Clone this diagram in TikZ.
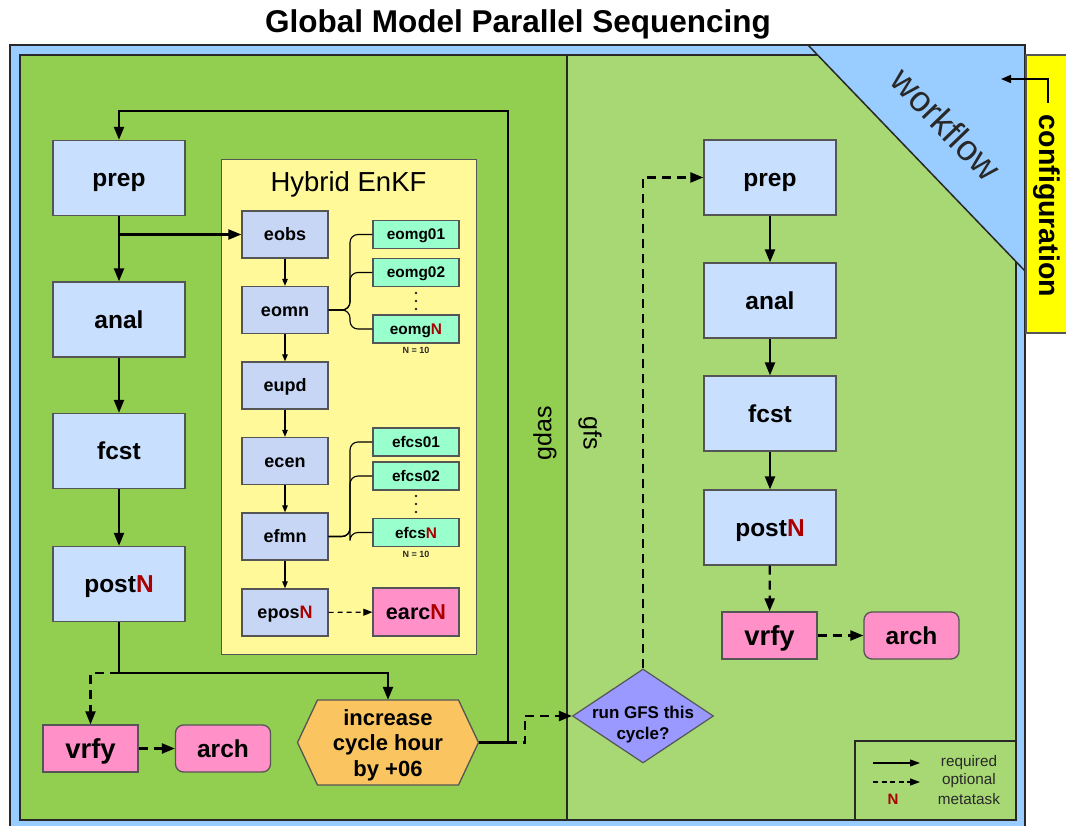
\documentclass[tikz,border=0pt]{standalone}
\usepackage{fontspec}
\setmainfont{Liberation Sans}
\usetikzlibrary{arrows.meta,shapes.geometric}
\definecolor{outerblue}{RGB}{153,204,255}
\definecolor{gdasg}{RGB}{146,206,80}
\definecolor{gfsg}{RGB}{167,216,116}
\definecolor{boxblue}{RGB}{201,223,254}
\definecolor{eblue}{RGB}{198,214,244}
\definecolor{bordgray}{RGB}{85,85,85}
\definecolor{hybyellow}{RGB}{255,249,153}
\definecolor{mint}{RGB}{153,255,204}
\definecolor{pinkc}{RGB}{255,145,200}
\definecolor{orangec}{RGB}{250,196,96}
\definecolor{purpc}{RGB}{153,153,255}
\definecolor{cfgyellow}{RGB}{255,255,0}
\definecolor{nred}{RGB}{170,0,0}
\definecolor{darkline}{RGB}{40,40,40}
\newcommand{\rN}{\textcolor{nred}{N}}
\tikzset{
  panel/.style={draw=darkline, line width=1.4pt},
  mainbox/.style={draw=bordgray, line width=1.3pt, fill=boxblue, minimum width=132pt, minimum height=75pt, inner sep=0pt, text height=17.5pt, text depth=0pt, font=\fontsize{24.5}{28}\selectfont\bfseries},
  ebox/.style={draw=bordgray, line width=1.3pt, fill=eblue, minimum width=86pt, minimum height=47pt, inner sep=0pt, text height=12.9pt, text depth=0pt, font=\fontsize{18}{21}\selectfont\bfseries},
  mbox/.style={draw=bordgray, line width=1.3pt, fill=mint, minimum width=86pt, minimum height=28pt, inner sep=0pt, text height=11pt, text depth=0pt, font=\fontsize{15.4}{18}\selectfont\bfseries},
  pinkbox/.style={draw=bordgray, line width=1.3pt, fill=pinkc, minimum width=95pt, minimum height=47pt, inner sep=0pt, text depth=0pt},
  vrfyfont/.style={font=\fontsize{27.5}{30}\selectfont\bfseries, text height=19.7pt},
  archfont/.style={font=\fontsize{24.5}{28}\selectfont\bfseries, text height=17.5pt},
  req/.style={line width=2.2pt, -{Triangle[length=13pt,width=10pt]}},
  reqline/.style={line width=2.2pt},
  opt/.style={line width=2.2pt, dash pattern=on 9pt off 6pt, -{Triangle[length=13pt,width=10pt]}},
  optline/.style={line width=2.2pt, dash pattern=on 9pt off 6pt},
  ethin/.style={line width=1.1pt, -{Triangle[length=7pt,width=5.5pt]}},
  eopt/.style={line width=1.1pt, dash pattern=on 5pt off 4pt, -{Triangle[length=9pt,width=7pt]}},
  brace/.style={line width=1.1pt, rounded corners=8pt},
  smalltxt/.style={font=\fontsize{9}{10}\selectfont\bfseries, text=darkline},
  legtxt/.style={font=\fontsize{15.3}{17}\selectfont, text=darkline, anchor=base},
}
\begin{document}
\begin{tikzpicture}[x=1pt,y=-1pt]
\useasboundingbox (0,0) rectangle (1066,826);
\fill[white] (0,0) rectangle (1066,826);
% title
\node[font=\fontsize{31.5}{35}\selectfont\bfseries, anchor=base, inner sep=0pt] (title) at (518,33) {Global Model Parallel Sequencing};
% frames
\fill[outerblue] (10,45) rectangle (1025,840);
\draw[panel, fill=gdasg] (20,55) rectangle (567,820);
\draw[panel, fill=gfsg] (567,55) rectangle (1016,820);
\fill[outerblue] (808,45) -- (1025,45) -- (1025,271) -- cycle;
\draw[line width=1.5pt, draw=darkline] (808,45) -- (1025,271);
\draw[line width=1.8pt, draw=darkline] (10,840) -- (10,45) -- (1025,45) -- (1025,840);
\draw[draw=bordgray, line width=1.3pt, fill=cfgyellow] (1026,55) rectangle (1080,333);
% side labels
\node[font=\fontsize{36}{40}\selectfont, text=darkline, rotate=-46] (wf) at (946,124) {workflow};
\node[font=\fontsize{28.5}{32}\selectfont\bfseries, rotate=-90] (cfg) at (1047,206) {configuration};
\coordinate (cfgstart) at (1048,103);
\coordinate (cfgend) at (1001,79);
\draw[line width=1.5pt, -{Triangle[length=10pt,width=8pt]}] (cfgstart) |- (cfgend);
\node[font=\fontsize{25}{28}\selectfont, rotate=90] (gdaslbl) at (545,433) {gdas};
\node[font=\fontsize{25}{28}\selectfont, rotate=-90] (gfslbl) at (590,433) {gfs};
% hybrid enkf frame
\node[draw=bordgray, line width=1.3pt, fill=hybyellow, minimum width=255pt, minimum height=495pt, anchor=north west, inner sep=0pt] (hyb) at (221,159) {};
\node[font=\fontsize{27.5}{30}\selectfont, anchor=base, inner sep=0pt] (hybt) at (348.5,192) {Hybrid EnKF};
% left column
\node[mainbox] (lprep) at (119,178) {prep};
\node[mainbox] (lanal) at (119,319.5) {anal};
\node[mainbox] (lfcst) at (119,451) {fcst};
\node[mainbox] (lpost) at (119,584) {post\rN};
\node[pinkbox, vrfyfont] (lvrfy) at (90.5,748.5) {vrfy};
\node[pinkbox, rounded corners=8pt, archfont] (larch) at (223,748.5) {arch};
% hexagon
\fill[orangec, draw=bordgray, line width=1.3pt] (297.5,742.5) -- (317.5,700) -- (458.5,700) -- (478.5,742.5) -- (458.5,785) -- (317.5,785) -- cycle;
\node[minimum width=181pt, minimum height=85pt, inner sep=0pt] (hex) at (388,742.5) {};
\node[font=\fontsize{22}{25.5}\selectfont\bfseries, align=center] (hextxt) at (388,745) {increase\\cycle hour\\by +06};
% enkf boxes
\node[ebox] (eobs) at (285,234.5) {eobs};
\node[ebox] (eomn) at (285,310) {eomn};
\node[ebox] (eupd) at (285,385.5) {eupd};
\node[ebox] (ecen) at (285,461) {ecen};
\node[ebox] (efmn) at (285,536.5) {efmn};
\node[ebox] (epos) at (285,612.5) {epos\rN};
\node[mbox] (eomg1) at (416,234.5) {eomg01};
\node[mbox] (eomg2) at (416,272.5) {eomg02};
\node[mbox] (eomgN) at (416,329) {eomg\rN};
\node[smalltxt] (n1) at (416,350) {N = 10};
\node[mbox] (efcs1) at (416,442) {efcs01};
\node[mbox] (efcs2) at (416,476) {efcs02};
\node[mbox] (efcsN) at (416,532.5) {efcs\rN};
\node[smalltxt] (n2) at (416,554.5) {N = 10};
\node[draw=bordgray, line width=1.3pt, fill=pinkc, minimum width=86pt, minimum height=48pt, inner sep=0pt, text height=15.5pt, text depth=0pt, font=\fontsize{21.6}{24}\selectfont\bfseries] (earc) at (416,612) {earc\rN};
\foreach \yy in {293,301,309} \fill[darkline] (416,\yy) circle (1.4pt);
\foreach \yy in {496,504,512} \fill[darkline] (416,\yy) circle (1.4pt);
% enkf connectors
\draw[ethin] (eobs) -- (eomn);
\draw[ethin] (eomn) -- (eupd);
\draw[ethin] (eupd) -- (ecen);
\draw[ethin] (ecen) -- (efmn);
\draw[ethin] (efmn) -- (epos);
\draw[eopt] (epos) -- (earc);
\draw[brace] (eomn.east) -- (350,310) |- (eomg1.west);
\draw[brace] (eomn.east) -- (350,310) |- (eomg2.west);
\draw[brace] (eomn.east) -- (350,310) |- (eomgN.west);
\draw[brace] (efmn.east) -- (350,536.5) |- (efcs1.west);
\draw[brace] (efmn.east) -- (350,536.5) |- (efcs2.west);
\draw[brace] (efmn.east) -- (350,536.5) |- (efcsN.west);
% left connectors
\coordinate (loopB) at (508,742.5);
\coordinate (loopT) at (508,111);
\coordinate (junc) at (119,673);
\draw[req] (lprep) -- (lanal);
\draw[req] (lprep.south |- eobs.west) -- (eobs.west);
\draw[req] (lanal) -- (lfcst);
\draw[req] (lfcst) -- (lpost);
\draw[reqline] (lpost.south) -- (junc);
\draw[req] (junc) -| (hex.north);
\draw[opt] (junc) -| (lvrfy.north);
\draw[opt] (lvrfy) -- (larch);
\draw[req] (hex.east) -- (loopB) -- (loopT) -| (lprep.north);
% diamond
\node[diamond, draw=bordgray, fill=purpc, line width=1.2pt, minimum width=141pt, minimum height=94pt, inner sep=0pt] (dia) at (643,716) {};
\node[font=\fontsize{17}{21}\selectfont\bfseries, align=center] (diatxt) at (643,725) {run GFS this\\cycle?};
\coordinate (dj1) at (525,742.5);
\coordinate (dj2) at (525,716);
\draw[optline] (loopB) -- (dj1) -- (dj2);
\draw[opt] (dj2) -- (dia.west);
% right column
\node[mainbox] (rprep) at (770,177.5) {prep};
\node[mainbox] (ranal) at (770,300.5) {anal};
\node[mainbox] (rfcst) at (770,413.5) {fcst};
\node[mainbox] (rpost) at (770,527.5) {post\rN};
\node[pinkbox, vrfyfont] (rvrfy) at (769.5,635.5) {vrfy};
\node[pinkbox, rounded corners=8pt, archfont] (rarch) at (911.5,635.5) {arch};
\draw[opt] (dia.north) |- (rprep.west);
\draw[req] (rprep) -- (ranal);
\draw[req] (ranal) -- (rfcst);
\draw[req] (rfcst) -- (rpost);
\draw[opt] (rpost) -- (rvrfy);
\draw[opt] (rvrfy) -- (rarch);
% legend
\draw[draw=darkline, line width=1.2pt] (855,820) -- (855,741) -- (1015,741);
\coordinate (l1a) at (873,763);
\coordinate (l1b) at (920,763);
\coordinate (l2a) at (873,782);
\coordinate (l2b) at (920,782);
\draw[line width=1.2pt, -{Triangle[length=10pt,width=7pt]}] (l1a) -- (l1b);
\draw[line width=1.2pt, dash pattern=on 5pt off 3.5pt, -{Triangle[length=10pt,width=7pt]}] (l2a) -- (l2b);
\node[font=\fontsize{15}{17}\selectfont\bfseries, text=nred, anchor=base] (legN) at (893,804) {N};
\node[legtxt] (lreq) at (969,766) {required};
\node[legtxt] (lopt) at (969,784) {optional};
\node[legtxt] (lmeta) at (969,804) {metatask};
\end{tikzpicture}
\end{document}
